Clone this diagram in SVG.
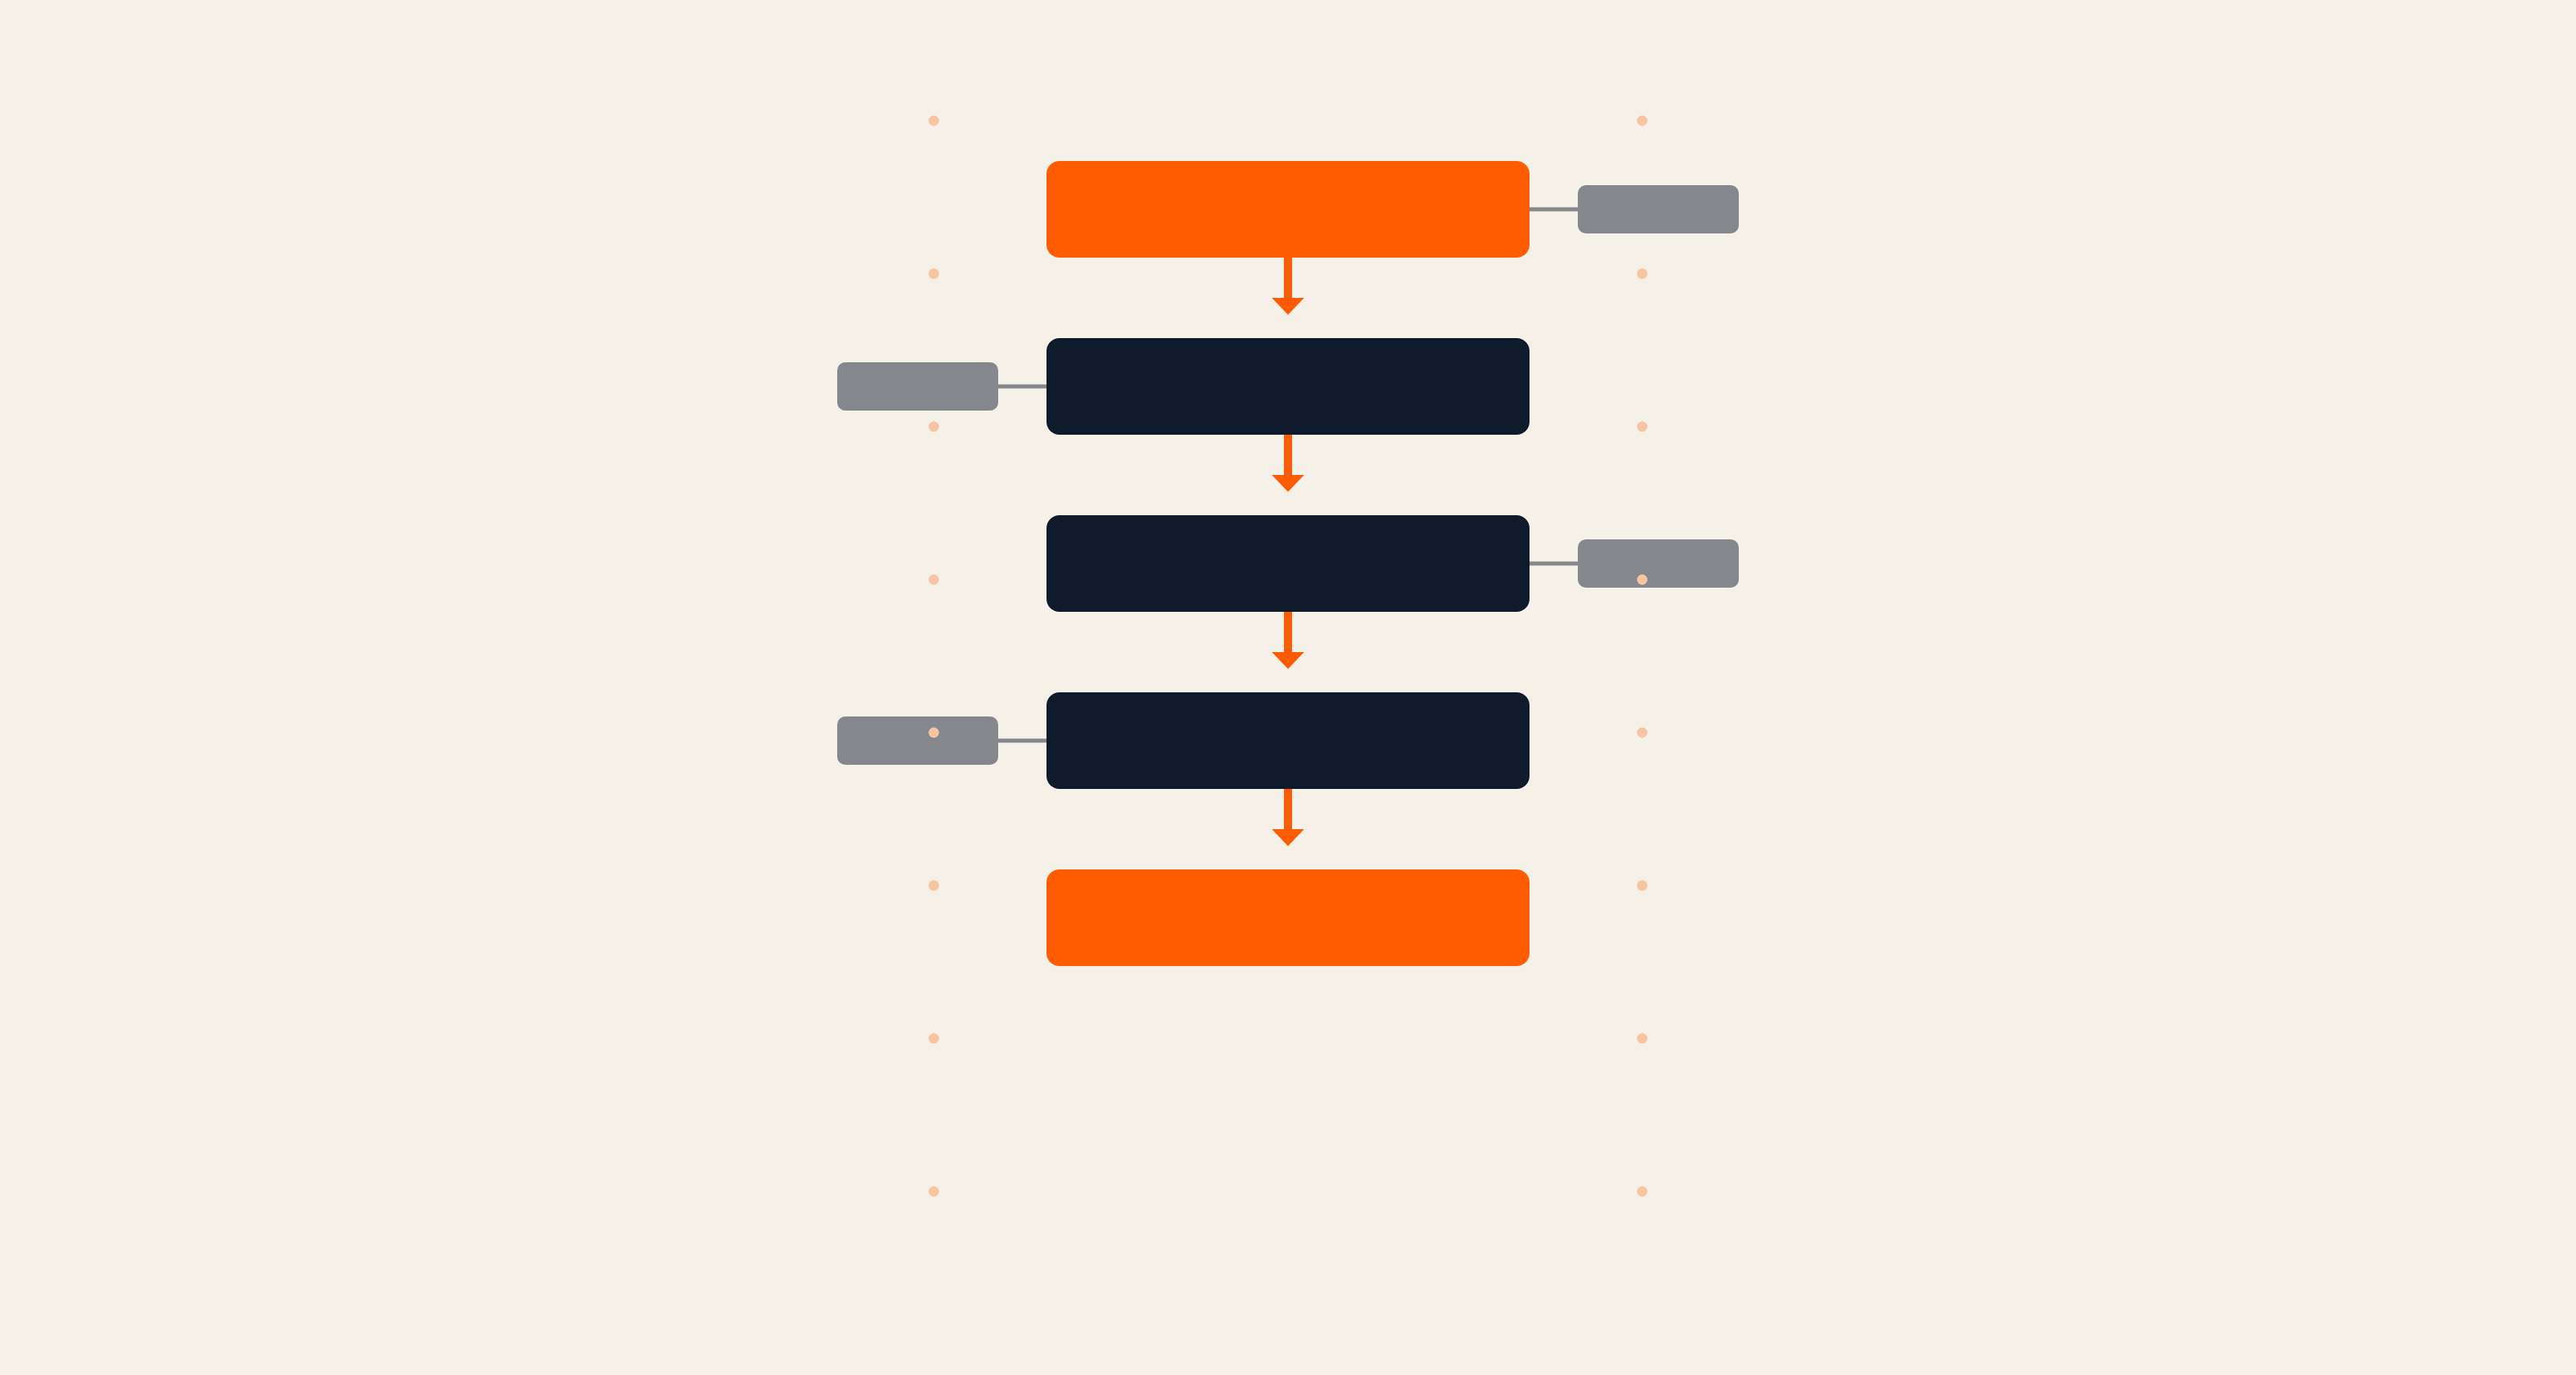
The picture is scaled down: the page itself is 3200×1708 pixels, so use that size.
<svg xmlns="http://www.w3.org/2000/svg" width="3200" height="1708" viewBox="0 0 3200 1708">
  <defs>
    <style>
      .bg { fill: #F5F0E8; }
      .main-orange { fill: #FF5C00; }
      .main-dark { fill: #0F1B2B; }
      .side { fill: #84878B; }
      .link { stroke: #84878B; stroke-width: 5; fill: none; }
      .flow { stroke: #FF5C00; stroke-width: 10; fill: none; }
      .head { fill: #FF5C00; }
      .dot { fill: #F8C4A2; }
    </style>
  </defs>
  <rect class="bg" x="0" y="0" width="3200" height="1708"/>

  <g id="connectors">
    <line class="link" x1="1900" y1="260" x2="1960" y2="260"/>
    <line class="link" x1="1240" y1="480" x2="1300" y2="480"/>
    <line class="link" x1="1900" y1="700" x2="1960" y2="700"/>
    <line class="link" x1="1240" y1="920" x2="1300" y2="920"/>

    <line class="flow" x1="1600" y1="320" x2="1600" y2="371"/>
    <polygon class="head" points="1580,370 1620,370 1600,391"/>
    <line class="flow" x1="1600" y1="540" x2="1600" y2="591"/>
    <polygon class="head" points="1580,590 1620,590 1600,611"/>
    <line class="flow" x1="1600" y1="760" x2="1600" y2="811"/>
    <polygon class="head" points="1580,810 1620,810 1600,831"/>
    <line class="flow" x1="1600" y1="980" x2="1600" y2="1031"/>
    <polygon class="head" points="1580,1030 1620,1030 1600,1051"/>
  </g>

  <g id="node1"><rect class="main-orange" x="1300" y="200" width="600" height="120" rx="16"/></g>
  <g id="node2"><rect class="main-dark" x="1300" y="420" width="600" height="120" rx="16"/></g>
  <g id="node3"><rect class="main-dark" x="1300" y="640" width="600" height="120" rx="16"/></g>
  <g id="node4"><rect class="main-dark" x="1300" y="860" width="600" height="120" rx="16"/></g>
  <g id="node5"><rect class="main-orange" x="1300" y="1080" width="600" height="120" rx="16"/></g>

  <g id="side1"><rect class="side" x="1960" y="230" width="200" height="60" rx="10"/></g>
  <g id="side2"><rect class="side" x="1040" y="450" width="200" height="60" rx="10"/></g>
  <g id="side3"><rect class="side" x="1960" y="670" width="200" height="60" rx="10"/></g>
  <g id="side4"><rect class="side" x="1040" y="890" width="200" height="60" rx="10"/></g>

  <g id="dots">
    <circle class="dot" cx="1160" cy="150" r="6.5"/>
    <circle class="dot" cx="1160" cy="340" r="6.5"/>
    <circle class="dot" cx="1160" cy="530" r="6.5"/>
    <circle class="dot" cx="1160" cy="720" r="6.5"/>
    <circle class="dot" cx="1160" cy="910" r="6.5"/>
    <circle class="dot" cx="1160" cy="1100" r="6.5"/>
    <circle class="dot" cx="1160" cy="1290" r="6.5"/>
    <circle class="dot" cx="1160" cy="1480" r="6.5"/>
    <circle class="dot" cx="2040" cy="150" r="6.5"/>
    <circle class="dot" cx="2040" cy="340" r="6.5"/>
    <circle class="dot" cx="2040" cy="530" r="6.5"/>
    <circle class="dot" cx="2040" cy="720" r="6.5"/>
    <circle class="dot" cx="2040" cy="910" r="6.5"/>
    <circle class="dot" cx="2040" cy="1100" r="6.5"/>
    <circle class="dot" cx="2040" cy="1290" r="6.5"/>
    <circle class="dot" cx="2040" cy="1480" r="6.5"/>
  </g>
</svg>
